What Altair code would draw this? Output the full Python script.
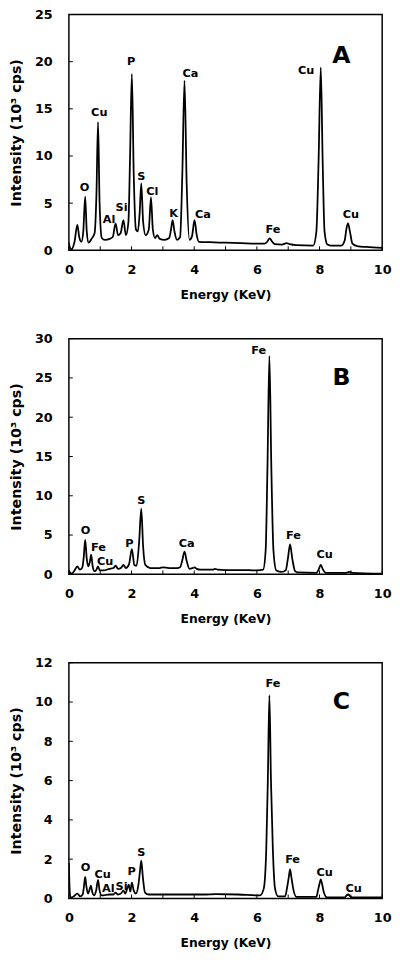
import altair as alt
import pandas as pd

# ---------------- Panel A ----------------
energy_a = [0.00, 0.03, 0.08, 0.18, 0.27, 0.33, 0.40, 0.46, 0.52, 0.57, 0.63, 0.72, 0.82, 0.88, 0.93,
            0.98, 1.05, 1.15, 1.30, 1.40, 1.49, 1.57, 1.65, 1.74, 1.82, 1.90, 1.95, 2.01, 2.07, 2.14,
            2.20, 2.26, 2.31, 2.37, 2.45, 2.55, 2.62, 2.68, 2.75, 2.82, 2.90, 3.05, 3.20, 3.26, 3.31,
            3.37, 3.45, 3.55, 3.62, 3.69, 3.76, 3.85, 3.93, 4.01, 4.08, 4.15, 4.50, 5.00, 5.50, 6.00,
            6.25, 6.33, 6.41, 6.49, 6.57, 6.80, 6.95, 7.05, 7.25, 7.80, 7.90, 7.97, 8.04, 8.10, 8.16,
            8.25, 8.35, 8.70, 8.80, 8.86, 8.91, 8.97, 9.05, 9.20, 9.50, 10.00]
counts_a = [0.8, 0.3, 0.1, 0.9, 2.7, 1.4, 0.9, 2.0, 5.7, 2.0, 0.8, 1.2, 1.8, 6.0, 13.6,
            5.0, 1.3, 1.1, 1.2, 1.4, 2.85, 1.6, 1.8, 3.2, 1.6, 3.0, 9.5, 18.7, 8.0, 2.2,
            2.0, 4.0, 7.1, 3.0, 1.6, 2.2, 5.6, 2.2, 1.3, 1.6, 1.2, 1.1, 1.3, 2.2, 3.2,
            2.0, 1.1, 1.4, 8.0, 18.0, 7.0, 1.1, 1.5, 3.2, 1.6, 0.9, 0.85, 0.8, 0.75, 0.7,
            0.7, 0.9, 1.27, 0.9, 0.65, 0.6, 0.75, 0.65, 0.55, 0.5, 2.0, 9.5, 19.4, 9.5, 2.0,
            0.6, 0.5, 0.5, 1.0, 2.3, 2.85, 2.0, 0.7, 0.45, 0.35, 0.25]
labels_a = ["O", "Cu", "Al", "Si", "P", "S", "Cl", "K", "Ca", "Ca", "Fe", "Cu", "Cu"]
label_e_a = [0.50, 0.97, 1.28, 1.68, 1.99, 2.31, 2.66, 3.34, 3.88, 4.28, 6.51, 7.57, 9.00]
label_i_a = [6.6, 14.6, 3.2, 4.5, 20.0, 7.8, 6.2, 3.8, 18.7, 3.7, 2.1, 19.0, 3.7]
yticks_a = [0, 5, 10, 15, 20, 25]

# ---------------- Panel B ----------------
energy_b = [0.00, 0.04, 0.10, 0.18, 0.27, 0.35, 0.42, 0.47, 0.52, 0.57, 0.62, 0.67, 0.71, 0.76, 0.82,
            0.88, 0.93, 0.99, 1.10, 1.30, 1.42, 1.49, 1.57, 1.66, 1.74, 1.82, 1.92, 2.01, 2.09, 2.16,
            2.24, 2.31, 2.37, 2.44, 2.60, 2.90, 3.00, 3.20, 3.45, 3.55, 3.62, 3.69, 3.76, 3.85, 3.95,
            4.01, 4.08, 4.20, 4.60, 4.66, 4.75, 5.00, 5.50, 6.00, 6.20, 6.28, 6.34, 6.40, 6.46, 6.53,
            6.62, 6.80, 6.92, 6.99, 7.06, 7.13, 7.22, 7.30, 7.90, 7.97, 8.04, 8.11, 8.20, 8.85, 8.95,
            9.05, 10.00]
counts_b = [0.5, 0.2, 0.1, 0.5, 1.0, 0.6, 0.8, 2.0, 4.4, 2.0, 1.0, 1.6, 2.5, 1.0, 0.4,
            0.6, 1.0, 0.5, 0.5, 0.7, 0.8, 1.1, 0.7, 0.8, 1.2, 0.8, 1.3, 3.2, 1.2, 1.1,
            4.0, 8.35, 3.5, 1.2, 0.8, 0.8, 0.9, 0.8, 0.8, 0.9, 1.8, 2.9, 1.7, 0.7, 0.8,
            0.9, 0.7, 0.6, 0.6, 0.7, 0.6, 0.55, 0.55, 0.5, 0.6, 3.0, 14.0, 27.8, 14.0, 3.0,
            0.5, 0.3, 0.5, 2.0, 3.8, 2.0, 0.4, 0.25, 0.2, 0.6, 1.2, 0.6, 0.2, 0.2, 0.3,
            0.2, 0.1]
labels_b = ["O", "Fe", "Cu", "P", "S", "Ca", "Fe", "Fe", "Cu"]
label_e_b = [0.53, 0.94, 1.16, 1.93, 2.31, 3.76, 6.06, 7.17, 8.16]
label_i_b = [5.5, 3.4, 1.6, 3.9, 9.3, 3.8, 28.4, 4.9, 2.4]
yticks_b = [0, 5, 10, 15, 20, 25, 30]

# ---------------- Panel C ----------------
energy_c = [0.00, 0.02, 0.05, 0.15, 0.27, 0.36, 0.44, 0.48, 0.52, 0.56, 0.61, 0.66, 0.70, 0.75, 0.80,
            0.87, 0.93, 0.98, 1.05, 1.30, 1.42, 1.49, 1.56, 1.66, 1.74, 1.80, 1.86, 1.91, 1.96, 2.01,
            2.07, 2.14, 2.22, 2.27, 2.31, 2.36, 2.43, 2.55, 3.00, 3.70, 4.30, 4.70, 5.40, 6.10, 6.22,
            6.30, 6.35, 6.40, 6.45, 6.51, 6.58, 6.68, 6.90, 6.97, 7.02, 7.06, 7.10, 7.16, 7.26, 7.90,
            7.95, 8.00, 8.04, 8.08, 8.14, 8.24, 8.80, 8.86, 8.92, 8.98, 9.05, 10.00]
counts_c = [1.8, 0.6, 0.05, 0.1, 0.25, 0.1, 0.2, 0.6, 1.1, 0.6, 0.25, 0.45, 0.65, 0.3, 0.15,
            0.4, 0.95, 0.4, 0.15, 0.2, 0.2, 0.3, 0.2, 0.25, 0.4, 0.25, 0.5, 0.7, 0.35, 0.8,
            0.4, 0.25, 0.7, 1.4, 1.93, 1.1, 0.3, 0.2, 0.2, 0.2, 0.2, 0.22, 0.2, 0.15, 0.5,
            2.5, 6.0, 10.35, 6.0, 2.5, 0.5, 0.1, 0.1, 0.6, 1.1, 1.48, 1.1, 0.5, 0.08, 0.08,
            0.4, 0.75, 0.97, 0.75, 0.3, 0.05, 0.05, 0.15, 0.2, 0.1, 0.05, 0.05]
labels_c = ["O", "Cu", "Al", "Si", "P", "S", "Fe", "Fe", "Cu", "Cu"]
label_e_c = [0.53, 1.08, 1.26, 1.68, 2.00, 2.31, 6.51, 7.14, 8.16, 9.09]
label_i_c = [1.55, 1.18, 0.5, 0.56, 1.35, 2.3, 10.9, 1.95, 1.3, 0.5]
yticks_c = [0, 2, 4, 6, 8, 10, 12]

# ---------------- shared ----------------
panel_letters = ["A", "B", "C"]
letter_e = [8.70, 8.70, 8.70]
letter_i = [20.6, 25.0, 10.0]
y_max = [25, 30, 12]
x_ticks = [0, 1, 2, 3, 4, 5, 6, 7, 8, 9, 10]
x_labels = [0, 2, 4, 6, 8, 10]

W = 319
H = 240
FONT = "DejaVu Sans"


def panel(energy, counts, labs, lab_e, lab_i, letter, le, li, ymax, yticks):
    xs = alt.Scale(domain=[0, 10], nice=False, zero=False)
    ys = alt.Scale(domain=[0, ymax], nice=False)
    xa = alt.Axis(values=x_labels, title="Energy (KeV)", format="d")
    ya = alt.Axis(values=yticks, title="Intensity (10³ cps)", format="d")
    line = alt.Chart(pd.DataFrame({"E": energy, "I": counts})).mark_line(
        color="black", strokeWidth=1.8, interpolate="monotone", clip=True
    ).encode(
        x=alt.X("E:Q", scale=xs, axis=xa),
        y=alt.Y("I:Q", scale=ys, axis=ya),
    )
    xt = alt.Chart(pd.DataFrame({"E": x_ticks})).mark_rule(color="black", strokeWidth=1).encode(
        x=alt.X("E:Q", scale=xs, axis=xa), y=alt.value(H), y2=alt.value(H - 4)
    )
    yt = alt.Chart(pd.DataFrame({"I": yticks})).mark_rule(color="black", strokeWidth=1).encode(
        y=alt.Y("I:Q", scale=ys, axis=ya), x=alt.value(0), x2=alt.value(4)
    )
    txt = alt.Chart(pd.DataFrame({"E": lab_e, "I": lab_i, "t": labs})).mark_text(
        font=FONT, fontSize=11.5, fontWeight="bold", color="black", align="center", baseline="middle"
    ).encode(x=alt.X("E:Q", scale=xs, axis=xa), y=alt.Y("I:Q", scale=ys, axis=ya), text="t:N")
    let = alt.Chart(pd.DataFrame({"E": [le], "I": [li], "t": [letter]})).mark_text(
        font=FONT, fontSize=24, fontWeight="bold", color="black", align="center", baseline="middle"
    ).encode(x=alt.X("E:Q", scale=xs, axis=xa), y=alt.Y("I:Q", scale=ys, axis=ya), text="t:N")
    return alt.layer(line, xt, yt, txt, let).properties(width=W, height=H)


pa = panel(energy_a, counts_a, labels_a, label_e_a, label_i_a, panel_letters[0], letter_e[0], letter_i[0], y_max[0], yticks_a)
pb = panel(energy_b, counts_b, labels_b, label_e_b, label_i_b, panel_letters[1], letter_e[1], letter_i[1], y_max[1], yticks_b)
pc = panel(energy_c, counts_c, labels_c, label_e_c, label_i_c, panel_letters[2], letter_e[2], letter_i[2], y_max[2], yticks_c)

chart = alt.vconcat(pa, pb, pc, spacing=30).properties(
    padding={"left": 0, "top": -9, "right": 0, "bottom": 0}
).configure_view(
    stroke="black", strokeWidth=1.5
).configure_axis(
    domain=False, grid=False, ticks=False,
    labelFont=FONT, labelFontWeight="bold", labelFontSize=13, labelColor="black",
    titleFont=FONT, titleFontWeight="bold", titleColor="black",
).configure_axisX(
    labelPadding=14, titlePadding=12, titleFontSize=12.5, labelFlush=False
).configure_axisY(
    labelPadding=17, titlePadding=11, titleFontSize=14.5, labelFlush=False
)

chart.save("out.html", embed_options={"renderer": "svg", "actions": False})
